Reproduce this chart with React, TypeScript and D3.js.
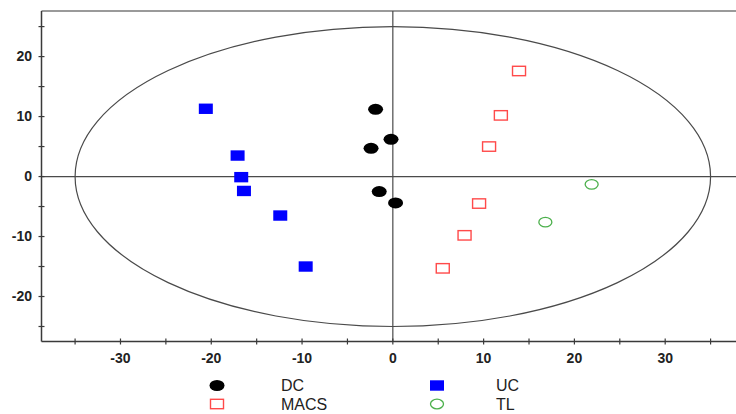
import React from 'react';
import * as d3 from 'd3';

// score values
const dcX = [-1.9, -0.2, -2.4, -1.5, 0.3];
const dcY = [11.2, 6.2, 4.7, -2.5, -4.4];
const ucX = [-20.6, -17.1, -16.7, -16.4, -12.4, -9.6];
const ucY = [11.3, 3.5, -0.1, -2.4, -6.5, -15.0];
const macsX = [13.9, 11.9, 10.6, 9.5, 7.9, 5.5];
const macsY = [17.6, 10.2, 5.0, -4.5, -9.8, -15.3];
const tlX = [21.9, 16.8];
const tlY = [-1.3, -7.6];

const xTickLabels = [-30, -20, -10, 0, 10, 20, 30];
const yTickLabels = [-20, -10, 0, 10, 20];
const legendNames = ['DC', 'UC', 'MACS', 'TL'];

const W = 736;
const H = 414;

const zip = (xs: number[], ys: number[]) => xs.map((v, i) => ({ x: v, y: ys[i] }));

export default function App() {
  const x = d3.scaleLinear().domain([-38.7, 37.8]).range([41.5, 736]);
  const y = d3.scaleLinear().domain([-27.5, 27.6]).range([341.5, 11]);

  const xMinor = d3.range(-35, 36, 5);
  const yMinor = d3.range(-25, 26, 5);

  const axisColor = '#3a3a3a';
  const font = '"Liberation Sans", Arial, sans-serif';

  const left = x.range()[0];
  const right = x.range()[1];
  const top = y.range()[1];
  const bottom = y.range()[0];

  /* legend marker shapes */
  const marker = (name: string, cx: number, cy: number, key: string | number) => {
    if (name === 'DC') return <ellipse key={key} cx={cx} cy={cy} rx={7.5} ry={5.5} fill="#000" />;
    if (name === 'UC') return <rect key={key} x={cx - 7} y={cy - 5.2} width={14} height={10.4} fill="#0000ff" />;
    if (name === 'MACS')
      return <rect key={key} x={cx - 6.5} y={cy - 4.7} width={13} height={9.4} fill="none" stroke="#ff4a4a" strokeWidth={1.4} />;
    return <ellipse key={key} cx={cx} cy={cy} rx={6.5} ry={4.8} fill="none" stroke="#4cb04c" strokeWidth={1.3} />;
  };

  const legendPos = [
    { mx: 217, tx: 281, cy: 385.5 },
    { mx: 437, tx: 496, cy: 385.5 },
    { mx: 217, tx: 281, cy: 404 },
    { mx: 437, tx: 496, cy: 404 },
  ];

  return (
    <svg width={W} height={H} style={{ position: 'absolute', left: 0, top: 0, background: '#fff' }}>
      {/* top frame */}
      <line x1={left} x2={right} y1={top} y2={top} stroke="#9a9a9a" strokeWidth={2} />

      {/* confidence ellipse */}
      <ellipse
        cx={x(0)}
        cy={y(0)}
        rx={x(35) - x(0)}
        ry={y(0) - y(25)}
        fill="none"
        stroke="#4a4a4a"
        strokeWidth={1.2}
      />

      {/* zero lines */}
      <line x1={left} x2={right} y1={y(0)} y2={y(0)} stroke="#4a4a4a" strokeWidth={1.2} />
      <line x1={x(0)} x2={x(0)} y1={top} y2={bottom} stroke="#4a4a4a" strokeWidth={1.2} />

      {/* axes */}
      <line x1={left} x2={right} y1={bottom} y2={bottom} stroke={axisColor} strokeWidth={1.5} />
      <line x1={left} x2={left} y1={top} y2={bottom} stroke={axisColor} strokeWidth={1.5} />

      {xMinor.map(t => (
        <line key={'xt' + t} x1={x(t)} x2={x(t)} y1={bottom - 3} y2={bottom + 3} stroke={axisColor} strokeWidth={1.2} />
      ))}
      {yMinor.map(t => (
        <line key={'yt' + t} x1={left - 3} x2={left + 3} y1={y(t)} y2={y(t)} stroke={axisColor} strokeWidth={1.2} />
      ))}

      {xTickLabels.map(t => (
        <text key={'xl' + t} x={x(t)} y={363} textAnchor="middle" fontFamily={font} fontWeight="bold" fontSize={14} fill="#222">
          {t}
        </text>
      ))}
      {yTickLabels.map(t => (
        <text key={'yl' + t} x={32} y={y(t)} dy="0.35em" textAnchor="end" fontFamily={font} fontWeight="bold" fontSize={14} fill="#222">
          {t}
        </text>
      ))}

      {/* points */}
      {zip(ucX, ucY).map((d, i) => marker('UC', x(d.x), y(d.y), 'uc' + i))}
      {zip(dcX, dcY).map((d, i) => marker('DC', x(d.x), y(d.y), 'dc' + i))}
      {zip(macsX, macsY).map((d, i) => marker('MACS', x(d.x), y(d.y), 'm' + i))}
      {zip(tlX, tlY).map((d, i) => marker('TL', x(d.x), y(d.y), 'tl' + i))}

      {/* legend */}
      {legendNames.map((name, i) => (
        <g key={'lg' + name}>
          {marker(name, legendPos[i].mx, legendPos[i].cy, 'lm' + name)}
          <text x={legendPos[i].tx} y={legendPos[i].cy} dy="0.36em" fontFamily={font} fontSize={16} fill="#222">
            {name}
          </text>
        </g>
      ))}
    </svg>
  );
}
